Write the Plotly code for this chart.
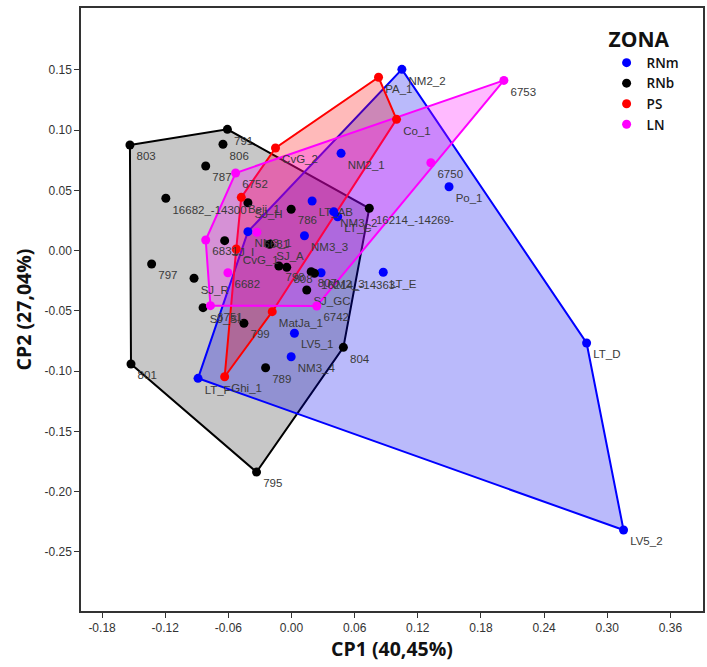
import plotly.graph_objects as go

# ---------------- data ----------------
zones = ["RNm", "RNb", "PS", "LN"]

rnm_labels = ["NM2_2", "NM2_1", "Po_1", "LT_AB", "NM3_2", "LT_C", "NM3_1", "NM3_3",
              "LT_E", "NM2_3", "LV5_1", "NM3_4", "LT_F", "LT_D", "LV5_2"]
rnm_x = [0.1049, 0.0471, 0.1497, 0.0196, 0.0401, 0.0439, -0.0414, 0.0123,
         0.0872, 0.0281, 0.0028, -0.0003, -0.0888, 0.2804, 0.3155]
rnm_y = [0.1505, 0.0808, 0.0531, 0.0412, 0.0324, 0.0282, 0.0158, 0.0124,
         -0.0179, -0.0183, -0.0685, -0.0880, -0.1059, -0.0766, -0.2318]

rnb_labels = ["803", "791", "806", "787", "16682_-14300", "SJ_H", "786", "16214_-14269-",
              "SJ_I", "SJ_A", "798", "808", "807", "16214_-14363-", "SJ_GC", "SJ_R", "797",
              "SJ_SI", "799", "804", "789", "801", "795"]
rnb_x = [-0.1535, -0.0609, -0.0651, -0.0815, -0.1194, -0.0414, -0.0003, 0.0739,
         -0.0635, -0.0208, -0.0120, -0.0045, 0.0187, 0.0218, 0.0145, -0.0926, -0.1329,
         -0.0840, -0.0452, 0.0493, -0.0246, -0.1525, -0.0332]
rnb_y = [0.0877, 0.1007, 0.0883, 0.0703, 0.0435, 0.0398, 0.0344, 0.0352,
         0.0083, 0.0053, -0.0127, -0.0138, -0.0174, -0.0188, -0.0326, -0.0229, -0.0110,
         -0.0473, -0.0602, -0.0802, -0.0971, -0.0940, -0.1837]

ps_labels = ["PA_1", "Co_1", "CvG_2", "Beji_1", "CvG_1", "MatJa_1", "Ghi_1"]
ps_x = [0.0827, 0.0998, -0.0152, -0.0477, -0.0525, -0.0183, -0.0635]
ps_y = [0.1439, 0.1090, 0.0852, 0.0443, 0.0014, -0.0506, -0.1046]

ln_labels = ["6753", "6750", "6752", "6681", "6831", "6682", "6751", "6742"]
ln_x = [0.2018, 0.1324, -0.0531, -0.0329, -0.0815, -0.0604, -0.0770, 0.0240]
ln_y = [0.1413, 0.0730, 0.0645, 0.0153, 0.0089, -0.0183, -0.0456, -0.0459]

x_tick_vals = [-0.18, -0.12, -0.06, 0.00, 0.06, 0.12, 0.18, 0.24, 0.30, 0.36]
x_tick_text = ["-0.18", "-0.12", "-0.06", "0.00", "0.06", "0.12", "0.18", "0.24", "0.30", "0.36"]
y_tick_vals = [0.15, 0.10, 0.05, 0.00, -0.05, -0.10, -0.15, -0.20, -0.25]
y_tick_text = ["0.15", "0.10", "0.05", "0.00", "-0.05", "-0.10", "-0.15", "-0.20", "-0.25"]

# ---------------- styling ----------------
colors = {"RNm": "#0000ff", "RNb": "#000000", "PS": "#ff0000", "LN": "#ff00ff"}
fills = {"RNm": "rgba(0,0,240,0.27)", "RNb": "rgba(0,0,0,0.22)",
         "PS": "rgba(255,0,0,0.27)", "LN": "rgba(255,0,255,0.27)"}

groups = {
    "RNm": (rnm_x, rnm_y, rnm_labels),
    "RNb": (rnb_x, rnb_y, rnb_labels),
    "PS": (ps_x, ps_y, ps_labels),
    "LN": (ln_x, ln_y, ln_labels),
}


def convex_hull(xs, ys):
    pts = sorted(set(zip(xs, ys)))
    if len(pts) <= 2:
        return pts

    def cross(o, a, b):
        return (a[0] - o[0]) * (b[1] - o[1]) - (a[1] - o[1]) * (b[0] - o[0])

    lower = []
    for p in pts:
        while len(lower) >= 2 and cross(lower[-2], lower[-1], p) <= 0:
            lower.pop()
        lower.append(p)
    upper = []
    for p in reversed(pts):
        while len(upper) >= 2 and cross(upper[-2], upper[-1], p) <= 0:
            upper.pop()
        upper.append(p)
    return lower[:-1] + upper[:-1]


fig = go.Figure()

# hulls (drawn first, underneath the points)
for z in ["RNb", "RNm", "PS", "LN"]:
    xs, ys, _ = groups[z]
    hull = convex_hull(xs, ys)
    hx = [p[0] for p in hull] + [hull[0][0]]
    hy = [p[1] for p in hull] + [hull[0][1]]
    fig.add_trace(go.Scatter(
        x=hx, y=hy, mode="lines", fill="toself", fillcolor=fills[z],
        line=dict(color=colors[z], width=2), hoverinfo="skip", showlegend=False))

# points with labels
for z in zones:
    xs, ys, labs = groups[z]
    fig.add_trace(go.Scatter(
        x=xs, y=ys, mode="markers+text", name=z, text=labs,
        textposition="bottom right",
        textfont=dict(family="Liberation Sans, Arial, sans-serif", size=11.5, color="#3a3a3a"),
        marker=dict(color=colors[z], size=9),
        cliponaxis=False))

axis_common = dict(showgrid=False, zeroline=False, showline=True, mirror=True,
                   linecolor="#333333", linewidth=1.5, ticks="outside", ticklen=5,
                   tickcolor="#333333", tickwidth=1.2,
                   tickfont=dict(family="Liberation Sans, Arial, sans-serif", size=12, color="#333333"))

fig.update_layout(
    width=707, height=667,
    margin=dict(l=81, r=2, t=8, b=56),
    paper_bgcolor="white", plot_bgcolor="white",
    xaxis=dict(range=[-0.2, 0.391], tickvals=x_tick_vals, ticktext=x_tick_text,
               title=dict(text="<b>CP1 (40,45%)</b>", standoff=4,
                          font=dict(family="Open Sans, sans-serif", size=19.5, color="#111111")),
               **axis_common),
    yaxis=dict(range=[-0.299, 0.2014], tickvals=y_tick_vals, ticktext=y_tick_text,
               title=dict(text="<b>CP2 (27,04%)</b>", standoff=8,
                          font=dict(family="Open Sans, sans-serif", size=19.5, color="#111111")),
               **axis_common),
    legend=dict(x=0.845, y=0.98, xanchor="left", yanchor="top",
                bgcolor="rgba(0,0,0,0)", tracegroupgap=0, itemwidth=30,
                title=dict(text="<b>ZONA</b>", font=dict(family="Open Sans, sans-serif", size=21, color="#111111")),
                font=dict(family="Open Sans, sans-serif", size=13.5, color="#111111", weight=600)),
)

fig.write_html("out.html", config={"displayModeBar": False},
               post_script="document.body.style.margin='0';")
